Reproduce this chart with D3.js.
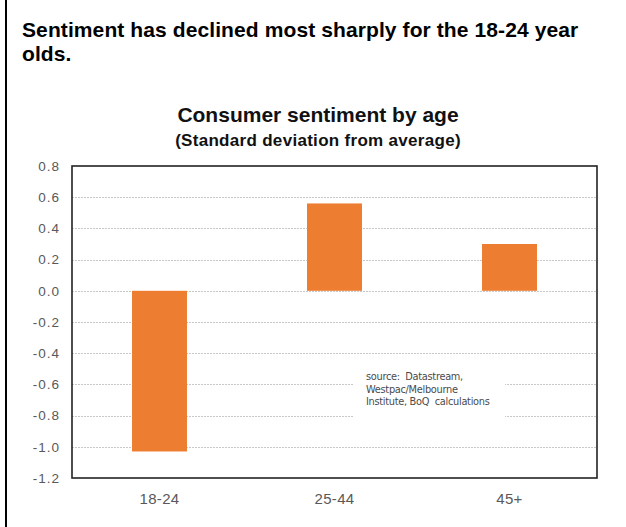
<!DOCTYPE html>
<html>
<head>
<meta charset="utf-8">
<script src="https://cdn.jsdelivr.net/npm/d3@7/dist/d3.min.js"></script>
<style>
  html, body { margin: 0; padding: 0; background: #fff; }
  svg { display: block; }
</style>
</head>
<body>
<svg id="chart" width="626" height="527"></svg>
<script>
// Age groups and their sentiment readings (standard deviations from average)
const categories = ["18-24", "25-44", "45+"];
const values = [-1.03, 0.56, 0.30];
const yTicks = [0.8, 0.6, 0.4, 0.2, 0.0, -0.2, -0.4, -0.6, -0.8, -1.0, -1.2];
const headline = ["Sentiment has declined most sharply for the 18-24 year", "olds."];
const chartTitle = "Consumer sentiment by age";
const chartSubtitle = "(Standard deviation from average)";
const sourceLines = ["source:  Datastream,", "Westpac/Melbourne", "Institute, BoQ  calculations"];

const svg = d3.select("#chart");
const sans = "Liberation Sans, Arial, sans-serif";

// Left rule of the panel
svg.append("line")
  .attr("x1", 6).attr("x2", 6).attr("y1", 0).attr("y2", 527)
  .attr("stroke", "#000").attr("stroke-width", 2);

// Headline
const head = svg.append("text")
  .attr("font-family", sans)
  .attr("font-weight", "bold").attr("font-size", 21)
  .attr("letter-spacing", 0.1)
  .attr("fill", "#000");
headline.forEach((t, i) => head.append("tspan").attr("x", 22).attr("y", 37 + i * 23.5).text(t));

// Chart titles
svg.append("text")
  .attr("x", 318).attr("y", 122)
  .attr("text-anchor", "middle")
  .attr("font-family", sans)
  .attr("font-weight", "bold").attr("font-size", 21)
  .attr("fill", "#111")
  .text(chartTitle);
svg.append("text")
  .attr("x", 318).attr("y", 146)
  .attr("text-anchor", "middle")
  .attr("font-family", sans)
  .attr("font-weight", "bold").attr("font-size", 17)
  .attr("letter-spacing", 0.3)
  .attr("fill", "#111")
  .text(chartSubtitle);

// Plot area
const plot = { left: 72, right: 597, top: 166, bottom: 478 };

const y = d3.scaleLinear()
  .domain([-1.2, 0.8])
  .range([plot.bottom, plot.top]);

const x = d3.scaleBand()
  .domain(categories)
  .range([plot.left, plot.right])
  .paddingInner(0.686)
  .paddingOuter(0.343);

// Horizontal gridlines
svg.append("g")
  .selectAll("line")
  .data(yTicks.filter(v => v < 0.79 && v > -1.19))
  .join("line")
  .attr("x1", plot.left).attr("x2", plot.right)
  .attr("y1", d => Math.round(y(d)) + 0.5).attr("y2", d => Math.round(y(d)) + 0.5)
  .attr("stroke", "#c8c8c8").attr("stroke-width", 1)
  .attr("stroke-dasharray", "2,1");

// Bars
svg.append("g")
  .selectAll("rect")
  .data(categories.map((c, i) => ({ c, v: values[i] })))
  .join("rect")
  .attr("x", d => x(d.c))
  .attr("width", x.bandwidth())
  .attr("y", d => y(Math.max(0, d.v)))
  .attr("height", d => Math.abs(y(d.v) - y(0)))
  .attr("fill", "#ED7D31");

// Source note box (blanks out the gridlines beneath it)
svg.append("rect")
  .attr("x", 353).attr("y", 358)
  .attr("width", 152).attr("height", 66)
  .attr("fill", "#fff");
const src = svg.append("text")
  .attr("font-family", "DejaVu Sans, sans-serif")
  .attr("font-size", 9.8)
  .attr("letter-spacing", -0.3)
  .style("white-space", "pre")
  .attr("fill", "#4a4a4a");
sourceLines.forEach((t, i) => src.append("tspan").attr("x", 366).attr("y", 380 + i * 12.5).text(t));

// Plot frame
svg.append("rect")
  .attr("x", plot.left).attr("y", plot.top)
  .attr("width", plot.right - plot.left).attr("height", plot.bottom - plot.top)
  .attr("fill", "none").attr("stroke", "#222").attr("stroke-width", 1.6);

// Y axis labels (plain hyphen for negatives)
const fmt = d3.format(".1f");
const yAxis = d3.axisLeft(y)
  .tickValues(yTicks)
  .tickFormat(d => fmt(d).replace("\u2212", "-"))
  .tickSize(0)
  .tickPadding(12);
const yg = svg.append("g")
  .attr("transform", `translate(${plot.left},0)`)
  .call(yAxis);
yg.select(".domain").remove();
yg.selectAll("text")
  .attr("font-family", sans)
  .attr("font-size", 13.5)
  .attr("letter-spacing", 1)
  .attr("fill", "#595959");

// X axis labels
const xAxis = d3.axisBottom(x).tickSize(0).tickPadding(15);
const xg = svg.append("g")
  .attr("transform", `translate(0,${plot.bottom})`)
  .call(xAxis);
xg.select(".domain").remove();
xg.selectAll("text")
  .attr("font-family", sans)
  .attr("font-size", 15)
  .attr("letter-spacing", 0.3)
  .attr("fill", "#595959");
</script>
</body>
</html>
